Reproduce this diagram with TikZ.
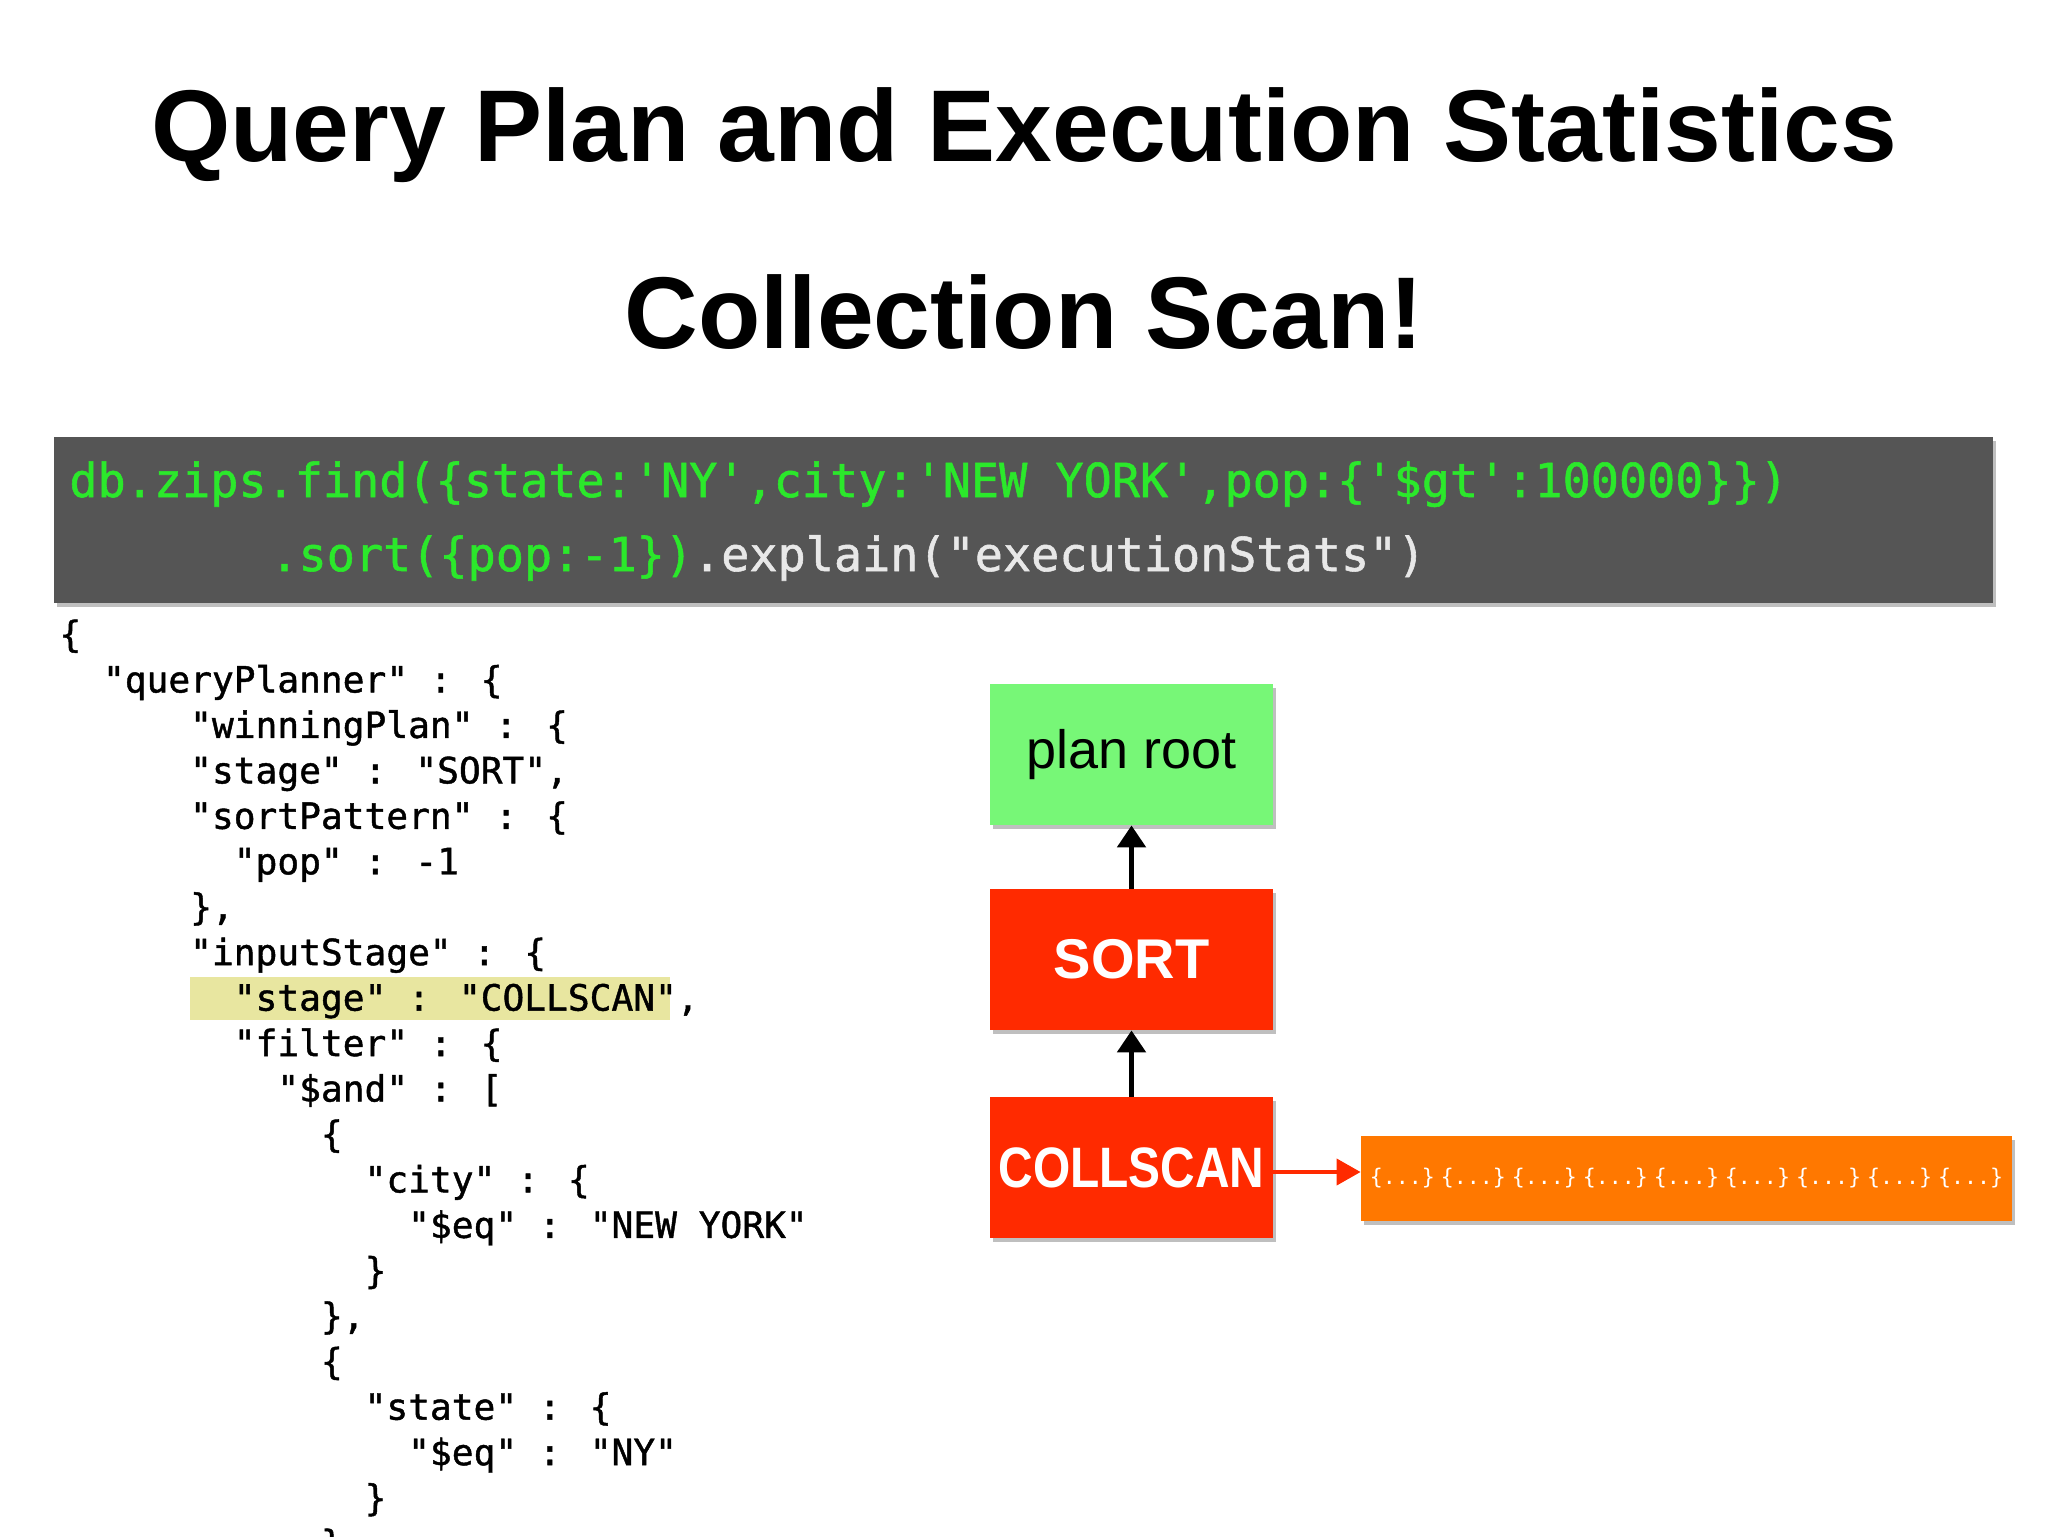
\documentclass[tikz,border=0pt]{standalone}
\usepackage{fontspec}
\setmainfont{Liberation Sans}
\newfontfamily\mono{DejaVu Sans Mono}
\newfontfamily\monob[FakeBold=1.2]{DejaVu Sans Mono}
\usetikzlibrary{shadows,arrows.meta}
\definecolor{bar}{HTML}{555555}
\definecolor{cgreen}{HTML}{2BE82B}
\definecolor{cgray}{HTML}{E8E8E8}
\definecolor{hl}{HTML}{E8E6A0}
\definecolor{boxgreen}{HTML}{77F777}
\definecolor{boxred}{HTML}{FF2A00}
\definecolor{boxorange}{HTML}{FF7800}
\tikzset{
  shad/.style={drop shadow={shadow xshift=1.5pt,shadow yshift=-2pt,opacity=0.25,fill=black}},
  planbox/.style={shad,minimum width=141.5pt,minimum height=70.5pt,inner sep=0pt},
  jline/.style={anchor=base west,inner sep=0pt,font=\monob\fontsize{18.1}{20}\selectfont},
  cline/.style={anchor=base west,inner sep=0pt,font=\monob\fontsize{23.4}{26}\selectfont},
  ttl/.style={font=\bfseries\fontsize{51}{60}\selectfont,inner sep=0pt},
  uparrow/.style={line width=2.6pt,-{Triangle[length=11pt,width=14pt]}},
}
\newcommand\dgrp{\{...\}}
\begin{document}
\begin{tikzpicture}[x=0.5pt,y=-0.5pt]
\useasboundingbox (0,0) rectangle (2048,1536);
\clip (0,0) rectangle (2048,1536);
\node[ttl] (t1) at (1024,135) {Query Plan and Execution Statistics};
\node[ttl] (t2) at (1024,312) {Collection Scan!};
% code bar
\fill[bar,shad] (54,437) rectangle (1993,603);
\node[cline,text=cgreen] (c1) at (69,497) {db.zips.find(\{state:'NY',city:'NEW YORK',pop:\{'\$gt':100000\}\})};
\node[cline] (c2) at (270,571) {\textcolor{cgreen}{.sort(\{pop:-1\})}\textcolor{cgray}{.explain("executionStats")}};
% highlight
\fill[hl] (190,977) rectangle (670,1020);
% json
\foreach \ind/\txt [count=\i from 0] in {
 0/\{,
 2/"queryPlanner" : \{,
 6/"winningPlan" : \{,
 6/"stage" : "SORT"{,},
 6/"sortPattern" : \{,
 8/"pop" : -1,
 6/\}{,},
 6/"inputStage" : \{,
 8/"stage" : "COLLSCAN"{,},
 8/"filter" : \{,
 10/"\$and" : [,
 12/\{,
 14/"city" : \{,
 16/"\$eq" : "NEW YORK",
 14/\},
 12/\}{,},
 12/\{,
 14/"state" : \{,
 16/"\$eq" : "NY",
 14/\},
 12/\}}
 \node[jline] (j\i) at ({59+\ind*21.8},{647+\i*45.45}) {\txt};
% plan boxes
\node[planbox,fill=boxgreen,font=\fontsize{27}{30}\selectfont] (root) at (1131.5,754.5) {plan root};
\node[planbox,fill=boxred,text=white,font=\bfseries\fontsize{28}{30}\selectfont] (sort) at (1131.5,959.5) {SORT};
\node[planbox,fill=boxred,text=white,font=\bfseries\fontsize{28.5}{30}\selectfont] (scan) at (1131.5,1167.5) {\scalebox{0.84}[1]{COLLSCAN}};
\node[shad,fill=boxorange,minimum width=325.5pt,minimum height=42.5pt,inner sep=0pt,text=white,font=\mono\fontsize{10.8}{12}\selectfont] (docs) at (1686.5,1178.5) {\dgrp\hspace{3pt}\dgrp\hspace{3pt}\dgrp\hspace{3pt}\dgrp\hspace{3pt}\dgrp\hspace{3pt}\dgrp\hspace{3pt}\dgrp\hspace{3pt}\dgrp\hspace{3pt}\dgrp};
\draw[uparrow] (sort.north) -- (root.south);
\draw[uparrow] (scan.north) -- (sort.south);
\draw[boxred,line width=2pt,-{Triangle[length=12pt,width=13pt]}] (scan.east |- 0,1172) -- (docs.west |- 0,1172);
\end{tikzpicture}
\end{document}
